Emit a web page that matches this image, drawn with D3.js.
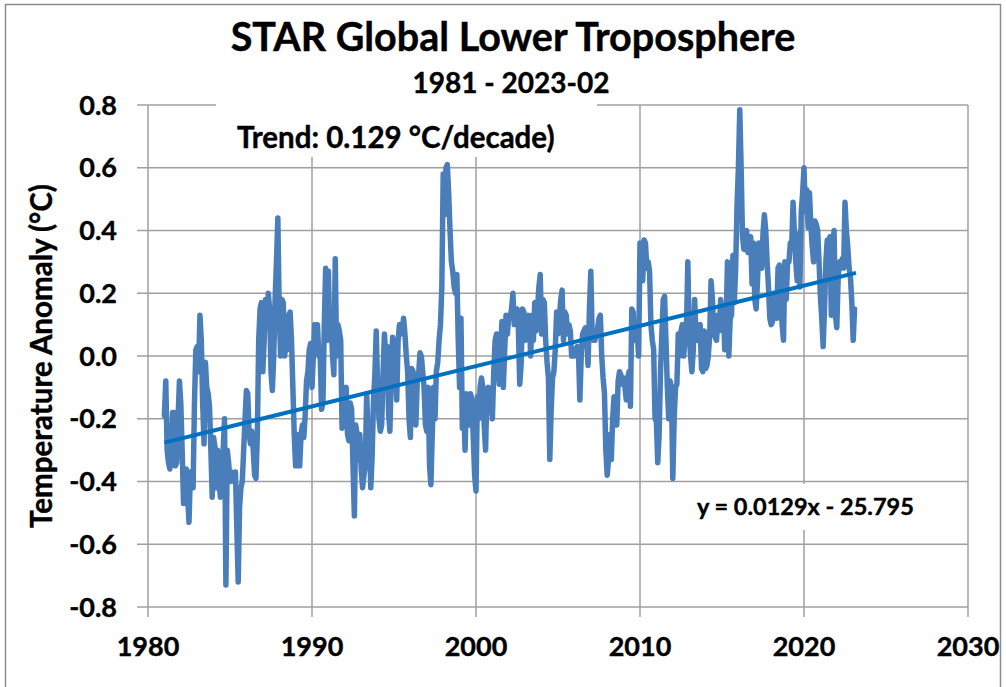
<!DOCTYPE html>
<html>
<head>
<meta charset="utf-8">
<script src="https://cdn.jsdelivr.net/npm/d3@7"></script>
<style>
  body { margin: 0; background: #fff; }
  text { font-family: Lato, "Open Sans", sans-serif; font-weight: 700; fill: #000; stroke: #000; stroke-width: 0.4px; }
</style>
</head>
<body>
<div id="chart"></div>
<script>
// monthly anomalies (°C), each block starts in January
const anom1980s = [ // 1981-1989
  -0.19, -0.08, -0.30, -0.34, -0.36, -0.30, -0.18, -0.18, -0.35, -0.34, -0.20, -0.08,
  -0.15, -0.30, -0.47, -0.40, -0.36, -0.45, -0.53, -0.37, -0.38, -0.42, -0.15, 0.02,
  0.03, -0.05, 0.13, 0.05, -0.15, -0.28, -0.02, -0.10, -0.12, -0.16, -0.30, -0.45,
  -0.26, -0.29, -0.42, -0.30, -0.40, -0.45, -0.37, -0.30, -0.20, -0.73, -0.30, -0.34,
  -0.40, -0.37, -0.38, -0.40, -0.37, -0.55, -0.72, -0.48, -0.42, -0.40, -0.30, -0.20,
  -0.11, -0.12, -0.25, -0.28, -0.24, -0.30, -0.38, -0.39, -0.25, 0.05, 0.15, 0.17,
  -0.05, 0.05, 0.18, 0.10, 0.20, 0.15, -0.05, -0.11, 0.00, 0.18, 0.30, 0.44,
  0.15, 0.00, 0.18, 0.17, 0.00, 0.05, 0.02, 0.13, 0.14, 0.05, -0.10, -0.25,
  -0.35, -0.25, -0.35, -0.35, -0.25, -0.22, -0.26, -0.19, -0.08, -0.05, 0.02, 0.04
];
const anom1990s = [
  -0.10, 0.00, 0.10, 0.05, 0.10, 0.00, 0.00, -0.17, -0.15, 0.10, 0.28, 0.05,
  0.27, 0.05, 0.12, 0.00, -0.06, 0.31, 0.00, 0.10, 0.08, 0.05, -0.23, -0.15,
  -0.12, -0.10, -0.25, -0.27, -0.15, -0.17, -0.35, -0.51, -0.22, -0.25, -0.33, -0.25,
  -0.36, -0.42, -0.38, -0.35, -0.12, -0.24, -0.26, -0.42, -0.32, -0.14, -0.06, 0.08,
  -0.10, -0.20, -0.24, -0.22, -0.05, 0.07, 0.00, 0.03, -0.18, -0.24, -0.05, 0.06,
  0.00, -0.05, -0.14, 0.05, 0.10, 0.07, 0.08, 0.12, 0.07, 0.00, -0.05, -0.20,
  -0.26, -0.04, -0.05, -0.20, -0.22, -0.08, -0.06, 0.01, 0.00, -0.05, -0.10, -0.22,
  -0.24, -0.10, -0.35, -0.41, -0.25, -0.10, -0.20, -0.05, -0.02, 0.05, 0.10, 0.22,
  0.58, 0.45, 0.60, 0.61, 0.52, 0.40, 0.30, 0.27, 0.22, 0.20, 0.26, 0.05,
  -0.10, 0.12, -0.23, -0.15, -0.30, -0.12, -0.16, -0.22, -0.12, -0.14, -0.26, -0.38
];
const anom2000s = [
  -0.43, -0.13, -0.20, -0.10, -0.07, -0.10, -0.22, -0.30, -0.12, -0.10, -0.18, -0.12,
  -0.20, -0.05, 0.05, 0.07, 0.02, -0.09, 0.02, 0.11, -0.10, 0.02, 0.13, 0.07,
  0.13, 0.12, 0.15, 0.20, 0.10, 0.13, 0.15, 0.09, -0.09, -0.03, 0.15, 0.14,
  0.05, 0.07, 0.13, 0.12, 0.00, 0.13, 0.05, 0.17, 0.08, 0.15, 0.22, 0.26,
  0.07, 0.18, 0.17, 0.05, -0.02, -0.07, -0.33, -0.17, -0.07, -0.05, 0.02, 0.14,
  0.07, 0.12, 0.18, 0.21, 0.05, 0.14, 0.13, 0.07, 0.10, 0.08, 0.00, 0.00,
  0.00, 0.02, 0.03, 0.01, -0.14, 0.00, 0.07, 0.08, 0.09, 0.07, -0.03, 0.15,
  0.27, 0.07, 0.05, 0.05, 0.07, 0.09, 0.12, 0.13, 0.00, -0.07, -0.12, -0.30,
  -0.38, -0.33, -0.25, -0.33, -0.20, -0.13, -0.20, -0.22, -0.08, -0.05, -0.06, -0.09,
  -0.07, -0.10, -0.14, -0.07, -0.05, -0.16, 0.15, 0.14, 0.05, 0.10, 0.07, 0.00
];
const anom2010s = [
  0.36, 0.30, 0.24, 0.37, 0.36, 0.28, 0.30, 0.27, 0.10, 0.05, 0.02, -0.20,
  -0.21, -0.34, -0.25, -0.05, 0.07, 0.18, 0.19, 0.05, -0.10, -0.20, -0.08, -0.10,
  -0.39, -0.20, -0.10, -0.09, 0.07, 0.00, 0.08, 0.10, 0.00, 0.07, 0.09, 0.30,
  0.07, 0.00, -0.05, 0.02, 0.18, 0.06, 0.05, 0.09, 0.10, -0.04, -0.05, 0.08,
  -0.04, -0.03, 0.00, 0.07, 0.24, 0.18, 0.08, 0.06, 0.05, 0.13, 0.08, 0.18,
  0.14, 0.16, 0.02, 0.10, 0.30, 0.00, 0.12, 0.13, 0.32, 0.17, 0.28, 0.48,
  0.60, 0.785, 0.60, 0.38, 0.34, 0.39, 0.40, 0.33, 0.36, 0.38, 0.23, 0.36,
  0.18, 0.15, 0.24, 0.36, 0.29, 0.28, 0.39, 0.45, 0.40, 0.30, 0.22, 0.12,
  0.10, 0.11, 0.20, 0.18, 0.12, 0.28, 0.29, 0.18, 0.10, 0.05, 0.30, 0.18,
  0.30, 0.30, 0.36, 0.35, 0.49, 0.39, 0.30, 0.24, 0.39, 0.22, 0.46, 0.52
];
const anom2020s = [ // to 2023-02
  0.60, 0.46, 0.53, 0.41, 0.52, 0.42, 0.35, 0.30, 0.43, 0.42, 0.40, 0.30,
  0.19, 0.12, 0.03, 0.15, 0.30, 0.37, 0.36, 0.38, 0.13, 0.35, 0.40, 0.13,
  0.09, 0.25, 0.30, 0.28, 0.31, 0.28, 0.49, 0.40, 0.35, 0.28, 0.25, 0.17,
  0.05, 0.15
];
const firstYear = 1981;
const xTicks = [1980, 1990, 2000, 2010, 2020, 2030];
const yTicks = [-0.8, -0.6, -0.4, -0.2, 0.0, 0.2, 0.4, 0.6, 0.8];
const trendYears = [1981.0, 2023.17];
const trendValues = [-0.276, 0.265];

const titleText = "STAR Global Lower Troposphere";
const subtitleText = "1981 - 2023-02";
const trendLabel = "Trend: 0.129 °C/decade)";
const eqLabel = "y = 0.0129x - 25.795";
const yTitle = "Temperature Anomaly (°C)";

const width = 1006, height = 687;
const plotLeft = 148, plotRight = 968, plotTop = 105, plotBottom = 607;

let anomalies = [].concat(anom1980s, anom1990s, anom2000s, anom2010s, anom2020s);
let series = anomalies.map((v, i) => ({year: firstYear + i / 12, value: v}));

let svg = d3.select("#chart").append("svg")
  .attr("width", width)
  .attr("height", height);

// chart frame
svg.append("rect")
  .attr("x", 5.5).attr("y", 4.5)
  .attr("width", 995).attr("height", 700)
  .attr("fill", "none")
  .attr("stroke", "#8c8c8c")
  .attr("stroke-width", 1.5);

let x = d3.scaleLinear().domain([1980, 2030]).range([plotLeft, plotRight]);
let y = d3.scaleLinear().domain([-0.8, 0.8]).range([plotBottom, plotTop]);

// gridlines (with the short outside ticks)
svg.append("g").selectAll("line")
  .data(yTicks)
  .enter().append("line")
    .attr("x1", plotLeft - 11).attr("x2", plotRight)
    .attr("y1", d => y(d)).attr("y2", d => y(d))
    .attr("stroke", "#a0a0a0").attr("stroke-width", 1.5);
svg.append("g").selectAll("line")
  .data(xTicks)
  .enter().append("line")
    .attr("x1", d => x(d)).attr("x2", d => x(d))
    .attr("y1", plotTop).attr("y2", plotBottom + 10)
    .attr("stroke", "#a0a0a0").attr("stroke-width", 1.5);

// tick labels
svg.append("g").selectAll("text")
  .data(yTicks)
  .enter().append("text")
    .attr("x", 117)
    .attr("y", d => y(d))
    .attr("dy", "0.36em")
    .attr("text-anchor", "end")
    .attr("font-size", 27)
    .text(d => d.toFixed(1));
svg.append("g").selectAll("text")
  .data(xTicks)
  .enter().append("text")
    .attr("x", d => x(d))
    .attr("y", 656)
    .attr("text-anchor", "middle")
    .attr("font-size", 27)
    .text(d => d);

// data line
let line = d3.line()
  .x(d => x(d.year))
  .y(d => y(d.value));
svg.append("path")
  .datum(series)
  .attr("d", line)
  .attr("fill", "none")
  .attr("stroke", "#4a7ebb")
  .attr("stroke-width", 5.5)
  .attr("stroke-linejoin", "round")
  .attr("stroke-linecap", "round");

// linear trend
svg.append("line")
  .attr("x1", x(trendYears[0])).attr("y1", y(trendValues[0]))
  .attr("x2", x(trendYears[1])).attr("y2", y(trendValues[1]))
  .attr("stroke", "#0070c0")
  .attr("stroke-width", 4);

// label boxes
svg.append("rect")
  .attr("x", 216).attr("y", 98).attr("width", 381).attr("height", 59)
  .attr("fill", "#fff");
svg.append("text")
  .attr("x", 237).attr("y", 148)
  .attr("font-size", 29.5)
  .text(trendLabel);

svg.append("rect")
  .attr("x", 688).attr("y", 484).attr("width", 232).attr("height", 46)
  .attr("fill", "#fff");
svg.append("text")
  .attr("x", 697).attr("y", 515)
  .attr("font-size", 23.5)
  .text(eqLabel);

// titles
svg.append("text")
  .attr("x", 513).attr("y", 51)
  .attr("text-anchor", "middle")
  .attr("font-size", 39.5)
  .text(titleText);
svg.append("text")
  .attr("x", 511).attr("y", 93)
  .attr("text-anchor", "middle")
  .attr("font-size", 28)
  .text(subtitleText);
svg.append("text")
  .attr("transform", "translate(52,356) rotate(-90)")
  .attr("text-anchor", "middle")
  .attr("font-size", 29.5)
  .text(yTitle);
</script>
</body>
</html>
